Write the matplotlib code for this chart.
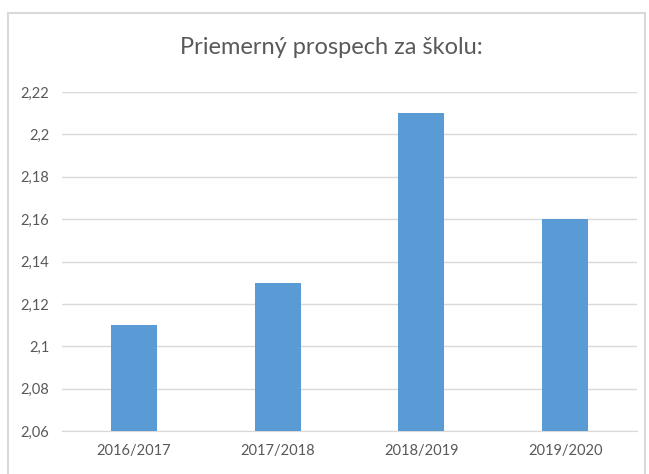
import matplotlib
matplotlib.use("Agg")
import matplotlib.pyplot as plt
from matplotlib.patches import Rectangle
from matplotlib.ticker import FuncFormatter

# Data
years = ["2016/2017", "2017/2018", "2018/2019", "2019/2020"]
grades = [2.11, 2.13, 2.21, 2.16]
yticks = [2.06, 2.08, 2.10, 2.12, 2.14, 2.16, 2.18, 2.20, 2.22]

plt.rcParams['font.family'] = ['Lato', 'DejaVu Sans']

fig = plt.figure(figsize=(6.49, 4.74), dpi=100)
ax = fig.add_axes([0.095, 0.0907, 0.887, 0.715])

# Chart border like Excel
fig.patches.append(Rectangle((8 / 649, -0.05), 637 / 649, 1 - 13 / 474 + 0.05,
                             transform=fig.transFigure, fill=False,
                             edgecolor="#D9D9D9", linewidth=1.5))

ax.bar(years, grades, width=0.32, color="#5B9BD5", zorder=3)

ax.set_ylim(2.06, 2.22)
ax.set_xlim(-0.5, 3.5)
ax.set_yticks(yticks)
ax.yaxis.set_major_formatter(FuncFormatter(lambda v, p: ("%g" % round(v, 2)).replace(".", ",")))
ax.grid(axis="y", color="#D9D9D9", linewidth=1, zorder=0)

for s in ["top", "right", "left"]:
    ax.spines[s].set_visible(False)
ax.spines["bottom"].set_color("#D9D9D9")
ax.tick_params(axis="both", length=0, labelsize=10.5, colors="#595959")
ax.tick_params(axis="y", pad=9)
ax.tick_params(axis="x", pad=9)

fig.text(0.511, 1 - 47 / 474, "Priemerný prospech za školu:", ha="center", va="center",
         fontsize=17, color="#595959")

fig.savefig("out.png", dpi=100)
